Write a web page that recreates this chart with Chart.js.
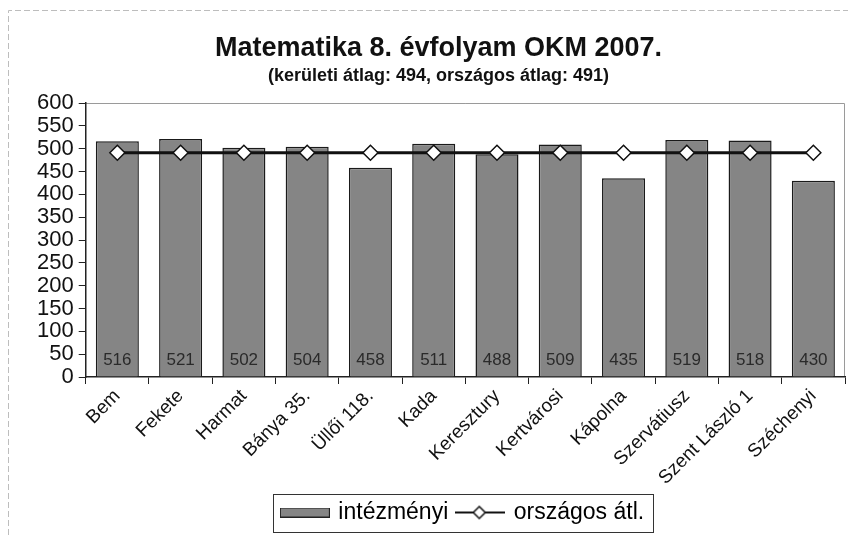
<html lang="hu">
<head>
<meta charset="utf-8">
<style>
  body { margin: 0; background: #fff; }
  #wrap { width: 854px; height: 536px; }
</style>
</head>
<body>
<div id="wrap">
    <canvas id="myChart"></canvas>
</div>

<script src="https://cdn.jsdelivr.net/npm/chart.js"></script>
<script>
    const schools = ['Bem', 'Fekete', 'Harmat', 'Bánya 35.', 'Üllői 118.', 'Kada', 'Keresztury',
        'Kertvárosi', 'Kápolna', 'Szervátiusz', 'Szent László 1', 'Széchenyi'];
    const schoolScores = [516, 521, 502, 504, 458, 511, 488, 509, 435, 519, 518, 430];
    const nationalAvg = [491, 491, 491, 491, 491, 491, 491, 491, 491, 491, 491, 491];
    const yTicks = [0, 50, 100, 150, 200, 250, 300, 350, 400, 450, 500, 550, 600];

    const font = '"Liberation Sans", Arial, sans-serif';

    // legend swatches
    function barSwatch() {
        const c = document.createElement('canvas');
        c.width = 50; c.height = 10;
        const g = c.getContext('2d');
        g.fillStyle = '#858585';
        g.fillRect(0, 0, 50, 10);
        g.strokeStyle = '#222';
        g.lineWidth = 1;
        g.strokeRect(0.5, 0.5, 49, 9);
        return c;
    }
    function lineSwatch() {
        const c = document.createElement('canvas');
        c.width = 50; c.height = 16;
        const g = c.getContext('2d');
        g.strokeStyle = '#111';
        g.lineWidth = 2;
        g.beginPath(); g.moveTo(0, 8); g.lineTo(50, 8); g.stroke();
        g.fillStyle = '#fff';
        g.lineWidth = 1.5;
        g.beginPath();
        g.moveTo(24, 2); g.lineTo(30, 8); g.lineTo(24, 14); g.lineTo(18, 8); g.closePath();
        g.fill(); g.stroke();
        return c;
    }

    const frame = {
        id: 'frame',
        afterLayout(chart) {
            // legend box sits a bit right of centre in the original
            chart.legend.left += 25;
            chart.legend.right += 25;
        },
        beforeDraw(chart) {
            const ctx = chart.ctx;
            ctx.save();
            ctx.strokeStyle = '#bdbdbd';
            ctx.lineWidth = 1;
            ctx.setLineDash([6, 3]);
            ctx.beginPath();
            ctx.moveTo(8.5, 535); ctx.lineTo(8.5, 10.5); ctx.lineTo(848, 10.5);
            ctx.stroke();
            ctx.setLineDash([]);
            const a = chart.chartArea;
            ctx.strokeStyle = '#9a9a9a';
            ctx.beginPath();
            ctx.moveTo(a.left, a.top + 0.5); ctx.lineTo(a.right - 0.5, a.top + 0.5); ctx.lineTo(a.right - 0.5, a.bottom);
            ctx.stroke();
            ctx.restore();
        },
        afterDraw(chart) {
            const boxes = chart.legend.legendHitBoxes;
            if (!boxes || !boxes.length) return;
            const left = Math.min(...boxes.map(b => b.left)) - 10;
            const right = Math.max(...boxes.map(b => b.left + b.width)) + 9;
            const top = Math.min(...boxes.map(b => b.top)) - 7;
            const bottom = Math.max(...boxes.map(b => b.top + b.height)) + 8;
            const ctx = chart.ctx;
            ctx.save();
            ctx.strokeStyle = '#333';
            ctx.lineWidth = 1;
            ctx.strokeRect(Math.round(left) + 0.5, Math.round(top) + 0.5, Math.round(right - left), Math.round(bottom - top));
            ctx.restore();
        }
    };

    const barValues = {
        id: 'barValues',
        afterDatasetsDraw(chart) {
            const meta = chart.getDatasetMeta(0);
            const y0 = chart.scales.y.getPixelForValue(0);
            const ctx = chart.ctx;
            ctx.save();
            ctx.font = '17px ' + font;
            ctx.fillStyle = '#2a2a2a';
            ctx.textAlign = 'center';
            ctx.textBaseline = 'middle';
            meta.data.forEach((bar, i) => {
                ctx.fillText(String(schoolScores[i]), bar.x, y0 - 17);
            });
            ctx.restore();
        }
    };

    new Chart(document.getElementById('myChart'), {
        data: {
            labels: schools,
            datasets: [{
                type: 'bar',
                label: 'intézményi',
                data: schoolScores,
                backgroundColor: '#858585',
                borderColor: '#1a1a1a',
                borderWidth: 1.5,
                categoryPercentage: 1,
                barPercentage: 0.68,
                order: 2
            }, {
                type: 'line',
                label: 'országos átl.',
                data: nationalAvg,
                borderColor: '#111',
                borderWidth: 3,
                pointStyle: 'rectRot',
                pointRadius: 7.5,
                pointBackgroundColor: '#fff',
                pointBorderColor: '#111',
                pointBorderWidth: 1.5,
                order: 1
            }]
        },
        options: {
            responsive: true,
            maintainAspectRatio: false,
            animation: false,
            layout: { padding: { left: 32, right: 9, top: 32, bottom: 2 } },
            scales: {
                y: {
                    min: 0,
                    max: 600,
                    afterBuildTicks(axis) { axis.ticks = yTicks.map(v => ({ value: v })); },
                    grid: { drawOnChartArea: false, tickLength: 7, color: '#222' },
                    border: { color: '#222', width: 1.5 },
                    ticks: { font: { family: font, size: 22, lineHeight: 1 }, color: '#111', padding: 5, autoSkip: false }
                },
                x: {
                    afterFit(axis) { axis.height = 114; },
                    grid: { drawOnChartArea: false, tickLength: 7, color: '#222', offset: true },
                    border: { color: '#222', width: 1.5 },
                    ticks: { font: { family: font, size: 19 }, color: '#111', maxRotation: 45, minRotation: 45, padding: 1 }
                }
            },
            plugins: {
                title: {
                    display: true,
                    text: 'Matematika 8. évfolyam OKM 2007.',
                    font: { family: font, size: 27, weight: 'bold' },
                    color: '#111',
                    padding: { top: 0, bottom: 1 }
                },
                subtitle: {
                    display: true,
                    text: '(kerületi átlag: 494, országos átlag: 491)',
                    font: { family: font, size: 18, weight: 'bold' },
                    color: '#111',
                    padding: { top: 0, bottom: 16 }
                },
                legend: {
                    position: 'bottom',
                    labels: {
                        font: { family: font, size: 23 },
                        color: '#111',
                        usePointStyle: true,
                        pointStyleWidth: 44,
                        boxHeight: 16,
                        padding: 10,
                        generateLabels(chart) {
                            return chart.data.datasets.map((ds, i) => ({
                                text: ds.label,
                                datasetIndex: i,
                                pointStyle: i === 0 ? barSwatch() : lineSwatch(),
                                fillStyle: '#fff',
                                strokeStyle: '#fff',
                                lineWidth: 0,
                                hidden: false
                            }));
                        }
                    }
                },
                tooltip: { enabled: false }
            }
        },
        plugins: [frame, barValues]
    });
</script>
</body>
</html>
